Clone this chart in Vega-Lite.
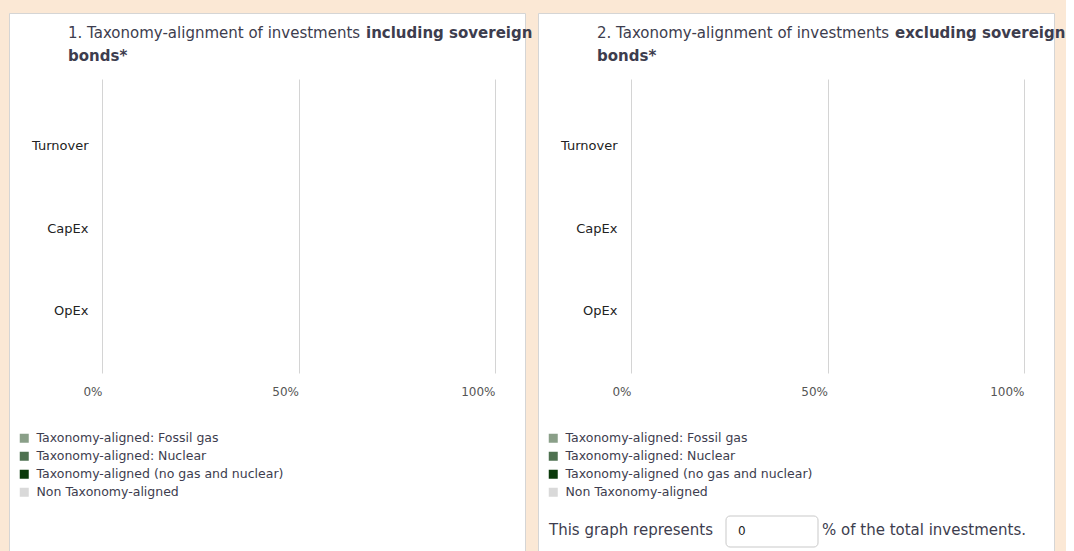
{
  "$schema": "https://vega.github.io/schema/vega-lite/v6.json",
  "background": "#fbe8d5",
  "padding": {"left": 8, "top": 12, "right": 0, "bottom": 0},
  "autosize": {"type": "pad"},
  "config": {
    "font": "DejaVu Sans",
    "view": {"stroke": null},
    "legend": {"padding": 0}
  },
  "datasets": {
    "inc": [
      {"metric": "Turnover", "category": "Taxonomy-aligned: Fossil gas", "value": 0},
      {"metric": "Turnover", "category": "Taxonomy-aligned: Nuclear", "value": 0},
      {"metric": "Turnover", "category": "Taxonomy-aligned (no gas and nuclear)", "value": 0},
      {"metric": "Turnover", "category": "Non Taxonomy-aligned", "value": 0},
      {"metric": "CapEx", "category": "Taxonomy-aligned: Fossil gas", "value": 0},
      {"metric": "CapEx", "category": "Taxonomy-aligned: Nuclear", "value": 0},
      {"metric": "CapEx", "category": "Taxonomy-aligned (no gas and nuclear)", "value": 0},
      {"metric": "CapEx", "category": "Non Taxonomy-aligned", "value": 0},
      {"metric": "OpEx", "category": "Taxonomy-aligned: Fossil gas", "value": 0},
      {"metric": "OpEx", "category": "Taxonomy-aligned: Nuclear", "value": 0},
      {"metric": "OpEx", "category": "Taxonomy-aligned (no gas and nuclear)", "value": 0},
      {"metric": "OpEx", "category": "Non Taxonomy-aligned", "value": 0}
    ],
    "exc": [
      {"metric": "Turnover", "category": "Taxonomy-aligned: Fossil gas", "value": 0},
      {"metric": "Turnover", "category": "Taxonomy-aligned: Nuclear", "value": 0},
      {"metric": "Turnover", "category": "Taxonomy-aligned (no gas and nuclear)", "value": 0},
      {"metric": "Turnover", "category": "Non Taxonomy-aligned", "value": 0},
      {"metric": "CapEx", "category": "Taxonomy-aligned: Fossil gas", "value": 0},
      {"metric": "CapEx", "category": "Taxonomy-aligned: Nuclear", "value": 0},
      {"metric": "CapEx", "category": "Taxonomy-aligned (no gas and nuclear)", "value": 0},
      {"metric": "CapEx", "category": "Non Taxonomy-aligned", "value": 0},
      {"metric": "OpEx", "category": "Taxonomy-aligned: Fossil gas", "value": 0},
      {"metric": "OpEx", "category": "Taxonomy-aligned: Nuclear", "value": 0},
      {"metric": "OpEx", "category": "Taxonomy-aligned (no gas and nuclear)", "value": 0},
      {"metric": "OpEx", "category": "Non Taxonomy-aligned", "value": 0}
    ]
  },
  "spacing": 13,
  "bounds": "flush",
  "resolve": {
    "scale": {"color": "independent", "x": "independent", "y": "independent"},
    "legend": {"color": "independent"},
    "axis": {"x": "independent", "y": "independent"}
  },
  "hconcat": [
    {
      "width": 516,
      "height": 545,
      "view": {"fill": "white", "stroke": "#d5d5d5", "strokeWidth": 1},
      "resolve": {"axis": {"x": "independent"}},
      "layer": [
        {
          "data": {"name": "inc"},
          "mark": {"type": "bar"},
          "encoding": {
            "y": {
              "field": "metric", "type": "nominal", "sort": ["Turnover", "CapEx", "OpEx"],
              "scale": {"range": [66, 360], "paddingInner": 0.3, "paddingOuter": 0.43, "align": 0.54},
              "axis": {"title": null, "orient": "left", "offset": -83, "labelPadding": 4, "ticks": false, "tickSize": 0, "domain": false, "grid": false, "labelColor": "#222", "labelFontSize": 13}
            },
            "x": {
              "field": "value", "type": "quantitative", "stack": "zero",
              "scale": {"domain": [0, 100], "range": [93, 486], "nice": false},
              "axis": {"title": null, "values": [0, 50, 100], "orient": "top", "offset": 0, "labels": false, "ticks": false, "domain": false, "grid": true, "gridColor": "#d4d4d4"}
            }
          }
        },
        {
          "data": {"name": "inc"},
          "mark": {"type": "bar"},
          "encoding": {
            "y": {
              "field": "metric", "type": "nominal", "sort": ["Turnover", "CapEx", "OpEx"],
              "axis": {"title": null, "orient": "left", "offset": -83, "labelPadding": 4, "ticks": false, "tickSize": 0, "domain": false, "grid": false, "labelColor": "#222", "labelFontSize": 13}
            },
            "x": {
              "field": "value", "type": "quantitative", "stack": "zero",
              "axis": {"title": null, "values": [0, 50, 100], "labelExpr": "datum.value + '%'", "labelAlign": "right", "orient": "bottom", "offset": -179, "labelPadding": 7, "ticks": false, "tickSize": 0, "domain": false, "grid": false, "labelColor": "#555", "labelFontSize": 12}
            },
            "color": {
              "field": "category", "type": "nominal",
              "scale": {
                "domain": ["Taxonomy-aligned: Fossil gas", "Taxonomy-aligned: Nuclear", "Taxonomy-aligned (no gas and nuclear)", "Non Taxonomy-aligned"],
                "range": ["#8a9f88", "#4e7150", "#0b3a0b", "#d9d9d9"]
              },
              "legend": {"title": null, "orient": "none", "legendX": 9, "legendY": 419, "symbolType": "square", "symbolSize": 81, "symbolStrokeWidth": 0, "labelFontSize": 12.5, "labelLimit": 0, "labelColor": "#3d3d4e", "rowPadding": 5, "labelOffset": 6}
            }
          }
        },
        {
          "data": {"values": [{"t1": "1. Taxonomy-alignment of investments", "t2": "including sovereign", "t3": "bonds*"}]},
          "layer": [
            {"mark": {"type": "text", "align": "left", "baseline": "middle", "fontSize": 15, "color": "#3d3d4e"}, "encoding": {"text": {"field": "t1"}, "x": {"value": 59}, "y": {"value": 20}}},
            {"mark": {"type": "text", "align": "left", "baseline": "middle", "fontSize": 15, "fontWeight": "bold", "color": "#3d3d4e"}, "encoding": {"text": {"field": "t2"}, "x": {"value": 357}, "y": {"value": 20}}},
            {"mark": {"type": "text", "align": "left", "baseline": "middle", "fontSize": 15, "fontWeight": "bold", "color": "#3d3d4e"}, "encoding": {"text": {"field": "t3"}, "x": {"value": 59}, "y": {"value": 43}}}
          ]
        }
      ]
    },
    {
      "width": 516,
      "height": 545,
      "view": {"fill": "white", "stroke": "#d5d5d5", "strokeWidth": 1},
      "resolve": {"axis": {"x": "independent"}},
      "layer": [
        {
          "data": {"name": "exc"},
          "mark": {"type": "bar"},
          "encoding": {
            "y": {
              "field": "metric", "type": "nominal", "sort": ["Turnover", "CapEx", "OpEx"],
              "scale": {"range": [66, 360], "paddingInner": 0.3, "paddingOuter": 0.43, "align": 0.54},
              "axis": {"title": null, "orient": "left", "offset": -83, "labelPadding": 4, "ticks": false, "tickSize": 0, "domain": false, "grid": false, "labelColor": "#222", "labelFontSize": 13}
            },
            "x": {
              "field": "value", "type": "quantitative", "stack": "zero",
              "scale": {"domain": [0, 100], "range": [93, 486], "nice": false},
              "axis": {"title": null, "values": [0, 50, 100], "orient": "top", "offset": 0, "labels": false, "ticks": false, "domain": false, "grid": true, "gridColor": "#d4d4d4"}
            }
          }
        },
        {
          "data": {"name": "exc"},
          "mark": {"type": "bar"},
          "encoding": {
            "y": {
              "field": "metric", "type": "nominal", "sort": ["Turnover", "CapEx", "OpEx"],
              "axis": {"title": null, "orient": "left", "offset": -83, "labelPadding": 4, "ticks": false, "tickSize": 0, "domain": false, "grid": false, "labelColor": "#222", "labelFontSize": 13}
            },
            "x": {
              "field": "value", "type": "quantitative", "stack": "zero",
              "axis": {"title": null, "values": [0, 50, 100], "labelExpr": "datum.value + '%'", "labelAlign": "right", "orient": "bottom", "offset": -179, "labelPadding": 7, "ticks": false, "tickSize": 0, "domain": false, "grid": false, "labelColor": "#555", "labelFontSize": 12}
            },
            "color": {
              "field": "category", "type": "nominal",
              "scale": {
                "domain": ["Taxonomy-aligned: Fossil gas", "Taxonomy-aligned: Nuclear", "Taxonomy-aligned (no gas and nuclear)", "Non Taxonomy-aligned"],
                "range": ["#8a9f88", "#4e7150", "#0b3a0b", "#d9d9d9"]
              },
              "legend": {"title": null, "orient": "none", "legendX": 9, "legendY": 419, "symbolType": "square", "symbolSize": 81, "symbolStrokeWidth": 0, "labelFontSize": 12.5, "labelLimit": 0, "labelColor": "#3d3d4e", "rowPadding": 5, "labelOffset": 6}
            }
          }
        },
        {
          "data": {"values": [{"t1": "2. Taxonomy-alignment of investments", "t2": "excluding sovereign", "t3": "bonds*"}]},
          "layer": [
            {"mark": {"type": "text", "align": "left", "baseline": "middle", "fontSize": 15, "color": "#3d3d4e"}, "encoding": {"text": {"field": "t1"}, "x": {"value": 59}, "y": {"value": 20}}},
            {"mark": {"type": "text", "align": "left", "baseline": "middle", "fontSize": 15, "fontWeight": "bold", "color": "#3d3d4e"}, "encoding": {"text": {"field": "t2"}, "x": {"value": 357}, "y": {"value": 20}}},
            {"mark": {"type": "text", "align": "left", "baseline": "middle", "fontSize": 15, "fontWeight": "bold", "color": "#3d3d4e"}, "encoding": {"text": {"field": "t3"}, "x": {"value": 59}, "y": {"value": 43}}}
          ]
        },
        {
          "data": {"values": [{"pre": "This graph represents", "share": 0, "post": "% of the total investments."}]},
          "layer": [
            {"mark": {"type": "text", "align": "left", "baseline": "middle", "fontSize": 15, "color": "#3d3d4e"}, "encoding": {"text": {"field": "pre"}, "x": {"value": 11}, "y": {"value": 517}}},
            {"mark": {"type": "rect", "cornerRadius": 4, "fill": "white", "stroke": "#c9c9c9", "strokeWidth": 1}, "encoding": {"x": {"value": 188}, "x2": {"value": 280}, "y": {"value": 503}, "y2": {"value": 534}}},
            {"mark": {"type": "text", "align": "left", "baseline": "middle", "fontSize": 12, "color": "#222"}, "encoding": {"text": {"field": "share"}, "x": {"value": 200}, "y": {"value": 518}}},
            {"mark": {"type": "text", "align": "left", "baseline": "middle", "fontSize": 15, "color": "#3d3d4e"}, "encoding": {"text": {"field": "post"}, "x": {"value": 284}, "y": {"value": 517}}}
          ]
        }
      ]
    }
  ]
}
